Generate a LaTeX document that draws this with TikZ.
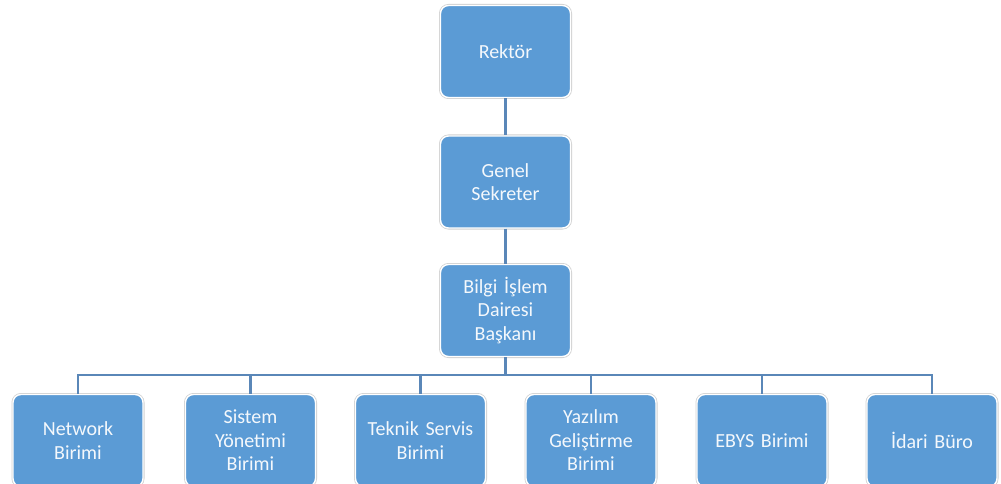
\documentclass[tikz,border=0pt]{standalone}
\usepackage{fontspec}
\setmainfont{Carlito}[WordSpace=0.8]
\definecolor{boxfill}{HTML}{5B9BD5}
\definecolor{linec}{HTML}{5A87B8}
\definecolor{txt}{HTML}{F4F8FC}
\begin{document}
\begin{tikzpicture}[x=1pt,y=-1pt,
  unit/.style={rectangle, rounded corners=8pt, fill=boxfill, draw=white, line width=1.4pt,
    preaction={draw=black!18, line width=3pt},
    minimum width=130pt, minimum height=92pt, inner sep=2pt,
    text width=126pt, align=center, text=txt,
    font=\fontsize{20}{23.5}\selectfont},
  conn/.style={draw=linec, line width=2.6pt}]
\useasboundingbox (0,0) rectangle (1001,484);
\begin{scope}
\clip (0,0) rectangle (1001,484);
\node[unit] (rektor) at (505.5,51.5) {Rektör};
\node[unit] (genel) at (505.5,182) {Genel\\Sekreter};
\node[unit] (bilgi) at (505.5,310.5) {Bilgi İşlem\\Dairesi\\Başkanı};
\coordinate (bus) at (505.5,375);
\draw[conn] (rektor.south) -- (genel.north);
\draw[conn] (genel.south) -- (bilgi.north);
\draw[conn] (bilgi.south) -- (bus);
\node[unit] (net) at (78,440.5) {Network\\Birimi};
\node[unit] (sis) at (250.5,440.5) {Sistem\\Yönetimi\\Birimi};
\node[unit] (tek) at (420.5,440.5) {Teknik Servis\\Birimi};
\node[unit] (yaz) at (591,440.5) {Yazılım\\Geliştirme\\Birimi};
\node[unit] (ebys) at (762,440.5) {EBYS Birimi};
\node[unit] (idari) at (932,440.5) {İdari Büro};
\foreach \c in {net,sis,tek,yaz,ebys,idari}
  \draw[conn] (bus) -| (\c.north);
\end{scope}
\end{tikzpicture}
\end{document}
